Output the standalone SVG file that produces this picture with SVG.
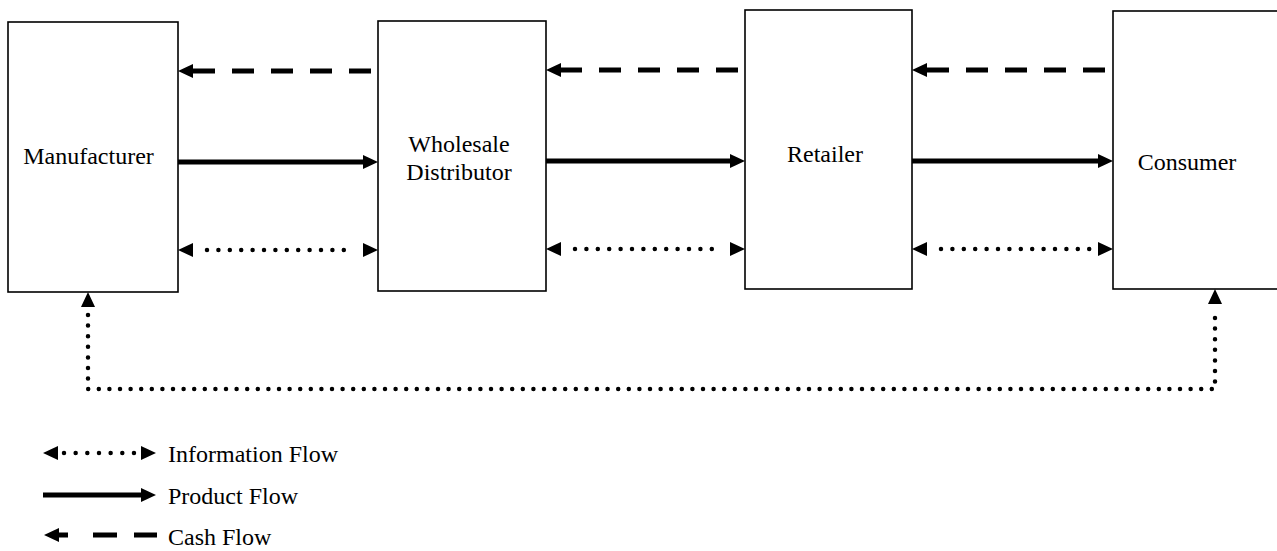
<svg xmlns="http://www.w3.org/2000/svg" xmlns:xlink="http://www.w3.org/1999/xlink" width="1277" height="551" viewBox="0 0 1277 551">
<style>
.box{fill:#fff;stroke:#000;stroke-width:1.6}
.lbl{font-family:"Liberation Serif","Times New Roman",serif;font-size:24px;fill:#000}
.cash{fill:none;stroke:#000;stroke-width:5;stroke-dasharray:22 17}
.prod{fill:none;stroke:#000;stroke-width:5}
.info{fill:none;stroke:#000;stroke-width:4.5;stroke-linecap:round;stroke-dasharray:0 11.4}
.linfo{fill:none;stroke:#000;stroke-width:4.5;stroke-linecap:round;stroke-dasharray:0 11.66}
.loop{fill:none;stroke:#000;stroke-width:4.5;stroke-linecap:round;stroke-dasharray:0 10.6}
.head{fill:#000}
</style>
<defs>
<polygon id="hr" class="head" points="0,0 -15,-7 -15,7"/>
<polygon id="hl" class="head" points="0,0 15,-7 15,7"/>
<polygon id="hu" class="head" points="0,0 -7,15 7,15"/>
</defs>
<g id="manufacturer">
<rect class="box" x="8" y="22" width="170" height="270"/>
<text class="lbl" x="88.5" y="164" text-anchor="middle">Manufacturer</text>
</g>
<g id="wholesale">
<rect class="box" x="378" y="21" width="168" height="270"/>
<text class="lbl" x="459" y="152" text-anchor="middle">Wholesale</text>
<text class="lbl" x="459" y="180" text-anchor="middle">Distributor</text>
</g>
<g id="retailer">
<rect class="box" x="745" y="10" width="167" height="279"/>
<text class="lbl" x="825" y="162" text-anchor="middle">Retailer</text>
</g>
<g id="consumer">
<rect class="box" x="1113" y="11" width="180" height="278"/>
<text class="lbl" x="1187" y="170" text-anchor="middle">Consumer</text>
</g>
<g id="connectors">
<!-- cash flows -->
<path class="cash" d="M371 71 H192"/>
<use xlink:href="#hl" x="178" y="71"/>
<path class="cash" d="M738 70 H560"/>
<use xlink:href="#hl" x="546" y="70"/>
<path class="cash" d="M1105 70 H926"/>
<use xlink:href="#hl" x="912" y="70"/>
<!-- product flows -->
<path class="prod" d="M178 162 H366"/>
<use xlink:href="#hr" x="378" y="162"/>
<path class="prod" d="M546 161 H733"/>
<use xlink:href="#hr" x="745" y="161"/>
<path class="prod" d="M912 161 H1101"/>
<use xlink:href="#hr" x="1113" y="161"/>
<!-- information flows -->
<use xlink:href="#hl" x="178" y="250"/>
<path class="info" d="M207 250 H355"/>
<use xlink:href="#hr" x="378" y="250"/>
<use xlink:href="#hl" x="546" y="249"/>
<path class="info" d="M575 249 H722"/>
<use xlink:href="#hr" x="745" y="249"/>
<use xlink:href="#hl" x="912" y="249"/>
<path class="info" d="M941 249 H1090"/>
<use xlink:href="#hr" x="1113" y="249"/>
<!-- bottom information loop -->
<use xlink:href="#hu" x="88" y="292"/>
<path class="loop" d="M88 315 V389 H1215 V313"/>
<use xlink:href="#hu" x="1215" y="289"/>
</g>
<g id="legend">
<use xlink:href="#hl" x="43" y="453"/>
<path class="linfo" d="M64 453 H134"/>
<use xlink:href="#hr" x="156" y="453"/>
<text class="lbl" x="168" y="462">Information Flow</text>
<path class="prod" d="M43 495 H142"/>
<use xlink:href="#hr" x="156" y="495"/>
<text class="lbl" x="168" y="504">Product Flow</text>
<use xlink:href="#hl" x="44" y="535"/>
<path class="prod" d="M56 535 H68 M93 535 H117 M134 535 H157"/>
<text class="lbl" x="168" y="545">Cash Flow</text>
</g>
</svg>
